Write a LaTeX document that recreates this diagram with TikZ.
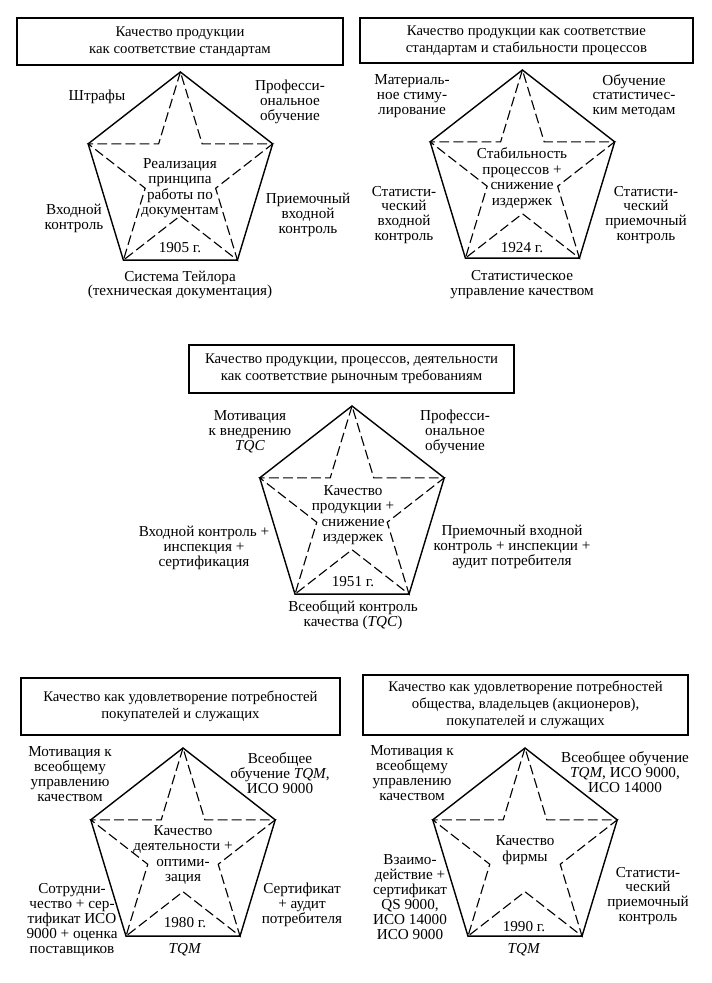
\documentclass[tikz,border=0pt]{standalone}
\usepackage{fontspec}
\setmainfont{Liberation Serif}
\usepackage{tikz}
\usetikzlibrary{calc}
\newcommand{\kstar}[3]{%
  \coordinate (#1) at (#2,#3);
  \foreach \k in {0,...,4}{%
    \coordinate (#1-o\k) at ($(#1)+({2.425*cos(90+72*\k)},{2.6*sin(90+72*\k)})$);
    \coordinate (#1-i\k) at ($(#1)+({0.926*cos(126+72*\k)},{0.993*sin(126+72*\k)})$);
  }
  \draw[rim] (#1-o0) -- (#1-o1) -- (#1-o2) -- (#1-o3) -- (#1-o4) -- cycle;
  \draw[ray] (#1-o0) -- (#1-i0) -- (#1-o1) -- (#1-i1) -- (#1-o2) -- (#1-i2) -- (#1-o3) -- (#1-i3) -- (#1-o4) -- (#1-i4) -- cycle;
}

\begin{document}
\begin{tikzpicture}[
  title/.style={draw, line width=1.1pt, align=center, inner sep=2pt, font=\fontsize{10.5}{12}\selectfont},
  lbl/.style={align=center, inner sep=1pt, font=\fontsize{10.8}{10.6}\selectfont},
  core/.style={align=center, inner sep=1pt, font=\fontsize{10.8}{11}\selectfont},
  rim/.style={line width=1pt, line join=miter},
  ray/.style={line width=0.8pt, dash pattern=on 7pt off 3pt}]
\useasboundingbox (0,0) rectangle (17.775,24.575);
% ===== 1905: standards =====
\node[title, minimum width=8.15cm, minimum height=1.18cm] (t1) at (4.5,23.54) {Качество продукции\\как соответствие стандартам};
\kstar{s1}{4.51}{20.175}
\node[core] (c1) at (4.5,19.875) {Реализация\\принципа\\работы по\\документам};
\node[lbl] (a1) at (2.425,22.15) {Штрафы};
\node[lbl] (b1) at (7.25,22.025) {Професси-\\ональное\\обучение};
\node[lbl] (d1) at (1.85,19.125) {Входной\\контроль};
\node[lbl] (e1) at (7.7,19.2) {Приемочный\\входной\\контроль};
\node[lbl] (y1) at (4.5,18.375) {1905 г.};
\node[lbl] (f1) at (4.5,17.45) {Система Тейлора\\(техническая документация)};
% ===== 1924: standards + stable processes =====
\node[title, minimum width=8.33cm, minimum height=1.13cm] (t2) at (13.16,23.56) {Качество продукции как соответствие\\стандартам и стабильности процессов};
\kstar{s2}{13.06}{20.225}
\node[core] (c2) at (13.05,20.125) {Стабильность\\процессов +\\снижение\\издержек};
\node[lbl] (a2) at (10.3,22.175) {Материаль-\\ное стиму-\\лирование};
\node[lbl] (b2) at (15.85,22.175) {Обучение\\статистичес-\\ким методам};
\node[lbl] (d2) at (10.1,19.2) {Статисти-\\ческий\\входной\\контроль};
\node[lbl] (e2) at (16.15,19.2) {Статисти-\\ческий\\приемочный\\контроль};
\node[lbl] (y2) at (13.05,18.375) {1924 г.};
\node[lbl] (f2) at (13.05,17.45) {Статистическое\\управление качеством};
% ===== 1951: TQC =====
\node[title, minimum width=8.125cm, minimum height=1.2cm] (t3) at (8.79,15.35) {Качество продукции, процессов, деятельности\\как соответствие рыночным требованиям};
\kstar{s3}{8.8}{11.825}
\node[core] (c3) at (8.825,11.7) {Качество\\продукции +\\снижение\\издержек};
\node[lbl] (a3) at (6.25,13.775) {Мотивация\\к внедрению\\\textit{TQC}};
\node[lbl] (b3) at (11.375,13.775) {Професси-\\ональное\\обучение};
\node[lbl] (d3) at (5.1,10.875) {Входной контроль +\\инспекция +\\сертификация};
\node[lbl] (e3) at (12.8,10.9) {Приемочный входной\\контроль + инспекции +\\аудит потребителя};
\node[lbl] (y3) at (8.825,10.025) {1951 г.};
\node[lbl] (f3) at (8.825,9.2) {Всеобщий контроль\\качества (\textit{TQC})};
% ===== 1980: TQM, customers and staff =====
\node[title, minimum width=7.975cm, minimum height=1.425cm] (t4) at (4.51,6.9125) {Качество как удовлетворение потребностей\\покупателей и служащих};
\kstar{s4}{4.575}{3.275}
\node[core] (c4) at (4.575,3.2) {Качество\\деятельности +\\оптими-\\зация};
\node[lbl] (a4) at (1.75,5.225) {Мотивация к\\всеобщему\\управлению\\качеством};
\node[lbl] (b4) at (7.0,5.25) {Всеобщее\\обучение \textit{TQM},\\ИСО 9000};
\node[lbl] (d4) at (1.8,1.575) {Сотрудни-\\чество + сер-\\тификат ИСО\\9000 + оценка\\поставщиков};
\node[lbl] (e4) at (7.55,1.95) {Сертификат\\+ аудит\\потребителя};
\node[lbl] (y4) at (4.625,1.5) {1980 г.};
\node[lbl] (f4) at (4.625,0.825) {\textit{TQM}};
% ===== 1990: TQM, society and owners =====
\node[title, minimum width=8.125cm, minimum height=1.5cm] (t5) at (13.14,6.95) {Качество как удовлетворение потребностей\\общества, владельцев (акционеров),\\покупателей и служащих};
\kstar{s5}{13.125}{3.275}
\node[core] (c5) at (13.125,3.325) {Качество\\фирмы};
\node[lbl] (a5) at (10.3,5.25) {Мотивация к\\всеобщему\\управлению\\качеством};
\node[lbl] (b5) at (15.625,5.275) {Всеобщее обучение\\\textit{TQM}, ИСО 9000,\\ИСО 14000};
\node[lbl] (d5) at (10.25,2.15) {Взаимо-\\действие +\\сертификат\\QS 9000,\\ИСО 14000\\ИСО 9000};
\node[lbl] (e5) at (16.2,2.175) {Статисти-\\ческий\\приемочный\\контроль};
\node[lbl] (y5) at (13.1,1.4) {1990 г.};
\node[lbl] (f5) at (13.1,0.825) {\textit{TQM}};
\end{tikzpicture}
\end{document}
